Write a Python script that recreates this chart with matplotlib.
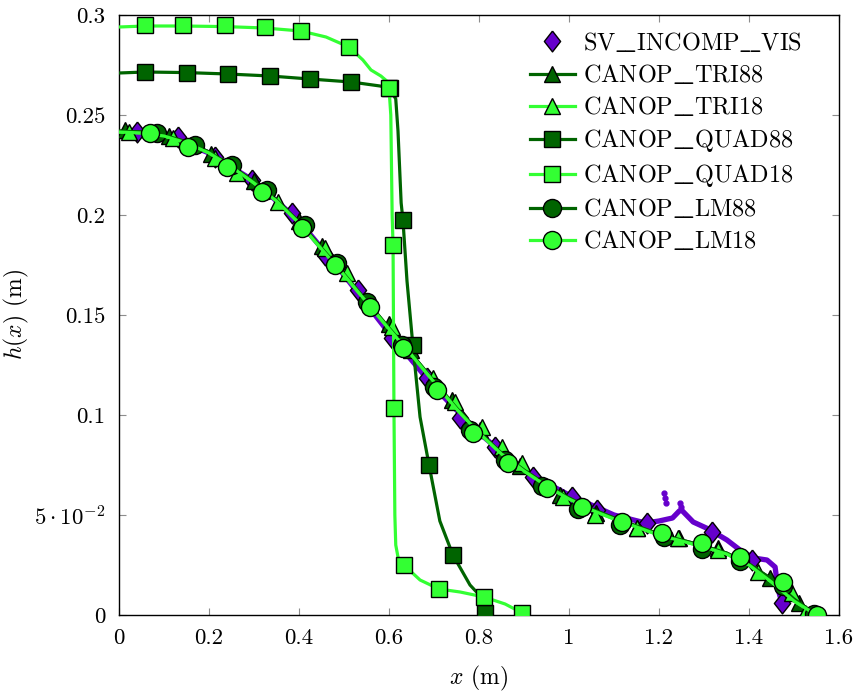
import matplotlib

matplotlib.use("Agg", force=True)
import matplotlib.pyplot as plt
from matplotlib.lines import Line2D

# --- data ------------------------------------------------------------------
SV_X = [0.0, 0.1, 0.2, 0.3, 0.4, 0.5, 0.6, 0.7, 0.8, 0.9, 1.0, 1.1, 1.17, 1.2, 1.23,
        1.245, 1.25, 1.276, 1.31, 1.351, 1.38, 1.41, 1.44, 1.458, 1.464, 1.473]
SV_Y = [0.241, 0.240, 0.231, 0.217, 0.197, 0.170, 0.141, 0.114, 0.091, 0.072, 0.060,
        0.050, 0.046, 0.047, 0.0485, 0.052, 0.0525, 0.0465, 0.043, 0.0375, 0.0325,
        0.0285, 0.0275, 0.024, 0.0135, 0.006]
SV_MX = [0.04, 0.131, 0.213, 0.296, 0.384, 0.458, 0.53, 0.607, 0.684, 0.758, 0.836,
         0.92, 1.007, 1.062, 1.173, 1.318, 1.407, 1.473]
SV_MY = [0.2415, 0.239, 0.229, 0.2175, 0.201, 0.18, 0.1625, 0.1385, 0.1185, 0.0985,
         0.084, 0.069, 0.059, 0.0525, 0.046, 0.0415, 0.0275, 0.006]
SV_SPIKE_X = [1.211, 1.213, 1.215, 1.247, 1.249]
SV_SPIKE_Y = [0.061, 0.0585, 0.056, 0.056, 0.054]

CANOP_X = [0.0, 0.05, 0.1, 0.15, 0.2, 0.25, 0.3, 0.35, 0.4, 0.45, 0.5, 0.55, 0.6,
           0.65, 0.7, 0.75, 0.8, 0.85, 0.9, 0.95, 1.0, 1.05, 1.1, 1.15, 1.2, 1.25,
           1.3, 1.35, 1.4, 1.45, 1.5, 1.55]
CANOP88_Y = [0.242, 0.2415, 0.240, 0.2365, 0.2315, 0.2245, 0.2165, 0.2075, 0.1965,
             0.1835, 0.1705, 0.157, 0.1435, 0.1305, 0.117, 0.1035, 0.0915, 0.081,
             0.0725, 0.065, 0.0585, 0.053, 0.0485, 0.0445, 0.0405, 0.0375, 0.0345,
             0.031, 0.0255, 0.018, 0.008, 0.0]
CANOP18_Y = [0.2415, 0.241, 0.2395, 0.236, 0.231, 0.224, 0.216, 0.207, 0.196, 0.183,
             0.170, 0.1565, 0.143, 0.130, 0.1165, 0.103, 0.091, 0.0805, 0.072,
             0.0645, 0.058, 0.0525, 0.048, 0.044, 0.040, 0.037, 0.034, 0.0305, 0.025,
             0.0165, 0.007, 0.0]

TRI88_MX = [0.013, 0.11, 0.205, 0.30, 0.40, 0.452, 0.60, 0.648, 0.74, 0.802, 0.89,
            0.98, 1.06, 1.15, 1.245, 1.33, 1.447, 1.51]
TRI88_MY = [0.2425, 0.2395, 0.2305, 0.217, 0.197, 0.1845, 0.1455, 0.1325, 0.1075,
            0.0925, 0.0745, 0.060, 0.051, 0.0435, 0.0385, 0.0335, 0.0185, 0.006]
TRI18_MX = [0.022, 0.12, 0.213, 0.262, 0.353, 0.458, 0.507, 0.607, 0.698, 0.747,
            0.807, 0.851, 0.896, 0.987, 1.058, 1.151, 1.242, 1.331, 1.42, 1.496, 1.524]
TRI18_MY = [0.2415, 0.2385, 0.2285, 0.221, 0.2065, 0.1835, 0.171, 0.144, 0.1185,
            0.1065, 0.094, 0.084, 0.076, 0.059, 0.050, 0.0435, 0.0385, 0.0325,
            0.0215, 0.011, 0.001]

QUAD88_X = [0.0, 0.058, 0.151, 0.242, 0.336, 0.424, 0.516, 0.58, 0.602, 0.615, 0.62,
            0.627, 0.631, 0.64, 0.653, 0.669, 0.689, 0.713, 0.742, 0.78, 0.809, 0.82]
QUAD88_Y = [0.271, 0.2715, 0.2712, 0.2705, 0.2695, 0.268, 0.2665, 0.2645, 0.2635,
            0.258, 0.242, 0.206, 0.1975, 0.167, 0.135, 0.099, 0.075, 0.047, 0.03,
            0.015, 0.008, 0.0]
QUAD88_MX = [0.058, 0.151, 0.242, 0.336, 0.424, 0.516, 0.602, 0.631, 0.653, 0.689,
             0.742, 0.813]
QUAD88_MY = [0.2715, 0.2712, 0.2705, 0.2695, 0.268, 0.2665, 0.2635, 0.1975, 0.135,
             0.075, 0.03, 0.001]

QUAD18_X = [0.0, 0.058, 0.142, 0.236, 0.324, 0.404, 0.46, 0.511, 0.542, 0.56, 0.582,
            0.595, 0.6, 0.604, 0.607, 0.609, 0.611, 0.613, 0.615, 0.62, 0.633, 0.669,
            0.711, 0.758, 0.811, 0.858, 0.896]
QUAD18_Y = [0.294, 0.2945, 0.2945, 0.2942, 0.2935, 0.292, 0.289, 0.284, 0.2775,
            0.2725, 0.2695, 0.267, 0.2635, 0.25, 0.2, 0.185, 0.1035, 0.05, 0.035,
            0.029, 0.025, 0.0175, 0.013, 0.0115, 0.009, 0.0055, 0.001]
QUAD18_MX = [0.058, 0.142, 0.236, 0.324, 0.404, 0.511, 0.6, 0.609, 0.611, 0.633,
             0.711, 0.811, 0.896]
QUAD18_MY = [0.295, 0.295, 0.295, 0.294, 0.292, 0.284, 0.2635, 0.185, 0.1035, 0.025,
             0.013, 0.009, 0.001]

LM88_MX = [0.085, 0.169, 0.251, 0.329, 0.413, 0.484, 0.551, 0.628, 0.70, 0.78, 0.857,
           0.94, 1.02, 1.113, 1.21, 1.296, 1.38, 1.476, 1.545]
LM88_MY = [0.241, 0.235, 0.225, 0.2125, 0.195, 0.176, 0.1565, 0.135, 0.114, 0.0925,
           0.0775, 0.0645, 0.053, 0.045, 0.039, 0.033, 0.027, 0.0145, 0.0005]
LM18_MX = [0.069, 0.153, 0.24, 0.318, 0.407, 0.48, 0.558, 0.631, 0.707, 0.787, 0.864,
           0.951, 1.029, 1.118, 1.207, 1.296, 1.38, 1.476, 1.551]
LM18_MY = [0.241, 0.234, 0.224, 0.2115, 0.1935, 0.175, 0.154, 0.1335, 0.1125, 0.091,
           0.076, 0.0635, 0.054, 0.0465, 0.041, 0.036, 0.029, 0.0165, 0.0]

X_TICKS = [0, 0.2, 0.4, 0.6, 0.8, 1.0, 1.2, 1.4, 1.6]
X_TICK_LABELS = ["0", "0.2", "0.4", "0.6", "0.8", "1", "1.2", "1.4", "1.6"]
Y_TICKS = [0, 0.05, 0.1, 0.15, 0.2, 0.25, 0.3]
Y_TICK_LABELS = ["0", r"$5\cdot10^{-2}$", "0.1", "0.15", "0.2", "0.25", "0.3"]
SERIES_NAMES = ["SV_INCOMP_VIS", "CANOP_TRI88", "CANOP_TRI18", "CANOP_QUAD88",
                "CANOP_QUAD18", "CANOP_LM88", "CANOP_LM18"]

PURPLE = "#6600cc"
DARK = "#006400"
LIGHT = "#33ff33"
DIAMOND = [(0, 1), (0.78, 0), (0, -1), (-0.78, 0), (0, 1)]

plt.rcParams.update(
    {
        "font.family": ["cmr10", "DejaVu Serif"],
        "mathtext.fontset": "cm",
        "axes.unicode_minus": False,
        "font.size": 15,
    }
)

fig = plt.figure(figsize=(8.58, 6.95), dpi=100)
ax = fig.add_axes([119 / 858, 80 / 695, 720 / 858, 600 / 695])

lw = 2.3
mk = dict(markeredgecolor="black", markeredgewidth=1.0, linestyle="none")

ax.plot(SV_X, SV_Y, color=PURPLE, lw=3.8, solid_capstyle="round", zorder=2)
ax.plot(SV_SPIKE_X, SV_SPIKE_Y, "o", color=PURPLE, ms=3.5, zorder=2)
ax.plot(SV_MX, SV_MY, marker=DIAMOND, ms=15, color=PURPLE, zorder=3, **mk)

ax.plot(CANOP_X, CANOP88_Y, color=DARK, lw=lw, zorder=4)
ax.plot(TRI88_MX, TRI88_MY, marker="^", ms=11, color=DARK, zorder=5, **mk)
ax.plot(CANOP_X, CANOP18_Y, color=LIGHT, lw=lw, zorder=6)
ax.plot(TRI18_MX, TRI18_MY, marker="^", ms=11, color=LIGHT, zorder=7, **mk)

ax.plot(QUAD88_X, QUAD88_Y, color=DARK, lw=lw, zorder=8)
ax.plot(QUAD88_MX, QUAD88_MY, marker="s", ms=12, color=DARK, zorder=9, **mk)
ax.plot(QUAD18_X, QUAD18_Y, color=LIGHT, lw=lw, zorder=10)
ax.plot(QUAD18_MX, QUAD18_MY, marker="s", ms=12, color=LIGHT, zorder=11, **mk)

ax.plot(CANOP_X, CANOP88_Y, color=DARK, lw=lw, zorder=12)
ax.plot(LM88_MX, LM88_MY, marker="o", ms=13, color=DARK, zorder=13, **mk)
ax.plot(CANOP_X, CANOP18_Y, color=LIGHT, lw=lw, zorder=14)
ax.plot(LM18_MX, LM18_MY, marker="o", ms=13, color=LIGHT, zorder=15, **mk)

ax.set_xlim(0, 1.6)
ax.set_ylim(0, 0.3)
ax.set_xticks(X_TICKS, X_TICK_LABELS)
ax.set_yticks(Y_TICKS, Y_TICK_LABELS)
ax.tick_params(direction="in", top=True, right=True, length=5, width=0.8, color="0.55",
               pad=10, labelsize=16.5)
for sp in ax.spines.values():
    sp.set_linewidth(1.0)
ax.set_xlabel(r"$x$ (m)", labelpad=11, fontsize=17)
ax.set_ylabel(r"$h(x)$ (m)", labelpad=2, fontsize=17)

handles = [
    Line2D([], [], marker=DIAMOND, ms=15, color=PURPLE, **mk),
    Line2D([], [], color=DARK, lw=lw, marker="^", ms=11, markeredgecolor="black"),
    Line2D([], [], color=LIGHT, lw=lw, marker="^", ms=11, markeredgecolor="black"),
    Line2D([], [], color=DARK, lw=lw, marker="s", ms=12, markeredgecolor="black"),
    Line2D([], [], color=LIGHT, lw=lw, marker="s", ms=12, markeredgecolor="black"),
    Line2D([], [], color=DARK, lw=lw, marker="o", ms=13, markeredgecolor="black"),
    Line2D([], [], color=LIGHT, lw=lw, marker="o", ms=13, markeredgecolor="black"),
]
# long TeX-style underscore: two mathtext underscores pulled together
labels = [r"$\mathrm{" + name.replace("_", r"\_\!\_") + "}$" for name in SERIES_NAMES]
fig.legend(
    handles,
    labels,
    loc="upper left",
    bbox_to_anchor=(530 / 858, 1 - 31 / 695),
    frameon=False,
    borderpad=0,
    borderaxespad=0,
    handlelength=1.85,
    handletextpad=0.33,
    labelspacing=0.33,
    fontsize=17.5,
)

fig.savefig("out.png", dpi=100)
